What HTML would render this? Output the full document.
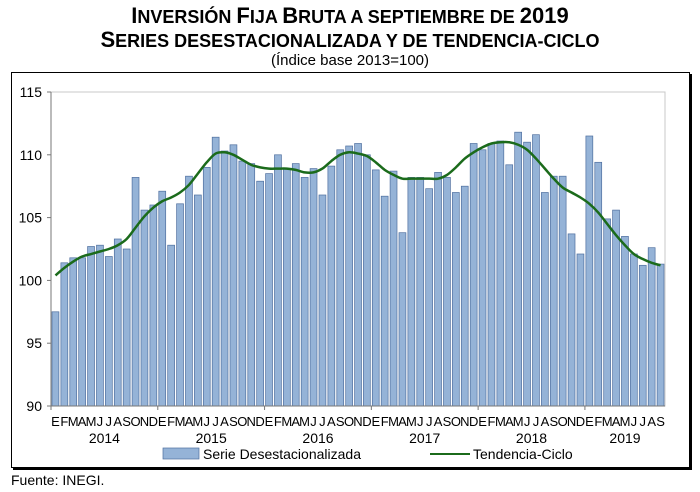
<!DOCTYPE html>
<html><head><meta charset="utf-8"><style>
body{margin:0;background:#fff;width:700px;height:492px;overflow:hidden;font-family:"Liberation Sans Narrow","Liberation Sans",sans-serif}
.t{position:absolute;left:0;width:700px;text-align:center;font-weight:bold;font-size:18px;color:#000;white-space:nowrap}
.t b{font-size:22px}
</style></head><body>
<div class="t" style="top:3px"><b>I</b>NVERSIÓN <b>F</b>IJA <b>B</b>RUTA A SEPTIEMBRE DE <b>2019</b></div>
<div class="t" style="top:27px"><b>S</b>ERIES DESESTACIONALIZADA Y DE TENDENCIA-CICLO</div>
<div style="position:absolute;left:0;width:700px;top:52px;text-align:center;font-size:15px">(Índice base 2013=100)</div>
<div style="position:absolute;left:11px;top:72px;width:677px;height:394px;border:1px solid #000;box-shadow:2px 2px 0 #000"></div>
<svg id="s" width="700" height="492" style="position:absolute;left:0;top:0" font-family="Liberation Sans Narrow, Liberation Sans, sans-serif"></svg>
<div style="position:absolute;left:11px;top:472px;font-size:14px">Fuente: INEGI.</div>
<script>
var B=[97.5,101.4,101.8,101.8,102.7,102.8,101.9,103.3,102.5,108.2,105.6,106.0,
107.1,102.8,106.1,108.3,106.8,109.0,111.4,110.3,110.8,109.5,109.3,107.9,
108.5,110.0,108.9,109.3,108.2,108.9,106.8,109.1,110.4,110.7,110.9,110.0,
108.8,106.7,108.7,103.8,108.2,108.2,107.3,108.6,108.2,107.0,107.5,110.9,
110.4,110.9,111.1,109.2,111.8,111.0,111.6,107.0,108.3,108.3,103.7,102.1,
111.5,109.4,104.9,105.6,103.5,102.1,101.2,102.6,101.3];
var T=[100.4,101.0,101.5,101.9,102.1,102.3,102.5,102.8,103.3,104.2,105.1,105.8,
106.3,106.6,107.0,107.6,108.5,109.4,110.1,110.2,110.0,109.6,109.2,109.0,
108.9,108.9,108.9,108.8,108.6,108.6,108.9,109.5,110.0,110.2,110.1,109.9,
109.4,108.8,108.4,108.1,108.1,108.1,108.1,108.1,108.4,109.0,109.7,110.2,
110.6,110.9,111.0,111.0,110.8,110.4,109.7,108.9,108.1,107.4,107.0,106.6,
106.1,105.4,104.5,103.6,102.8,102.1,101.7,101.4,101.2];
var L=51,R=665,Y0=406,Y1=92,n=69,w=(R-L)/n;
function Y(v){return Y0-(v-90)*(Y0-Y1)/25}
var h='<rect x="'+L+'" y="'+Y1+'" width="'+(R-L)+'" height="'+(Y0-Y1)+'" fill="none" stroke="#c8c8c8"/>';
for(var i=0;i<n;i++){var x=L+i*w+1,y=Y(B[i]);h+='<rect x="'+x.toFixed(1)+'" y="'+y.toFixed(1)+'" width="'+(w-2).toFixed(1)+'" height="'+(Y0-y).toFixed(1)+'" fill="#95b3d7" stroke="#4f6f9f" stroke-width="0.7"/>';}
var P=T.map(function(v,i){return[L+(i+0.5)*w,Y(v)]});
var d='M'+P[0][0]+','+P[0][1];
for(var i=0;i<P.length-1;i++){var p0=P[Math.max(i-1,0)],p1=P[i],p2=P[i+1],p3=P[Math.min(i+2,P.length-1)];
d+=' C'+(p1[0]+(p2[0]-p0[0])/6)+','+(p1[1]+(p2[1]-p0[1])/6)+' '+(p2[0]-(p3[0]-p1[0])/6)+','+(p2[1]-(p3[1]-p1[1])/6)+' '+p2[0]+','+p2[1];}
h+='<path d="'+d+'" fill="none" stroke="#1b6b1b" stroke-width="2.5"/>';
h+='<line x1="'+L+'" y1="'+Y1+'" x2="'+L+'" y2="'+Y0+'" stroke="#777"/><line x1="'+L+'" y1="'+Y0+'" x2="'+R+'" y2="'+Y0+'" stroke="#777"/>';
for(var v=90;v<=115;v+=5){var y=Y(v);h+='<line x1="'+(L-4)+'" y1="'+y+'" x2="'+L+'" y2="'+y+'" stroke="#777"/><text x="'+(L-9)+'" y="'+(y+5)+'" text-anchor="end" font-size="14">'+v+'</text>';}
var M='EFMAMJJASOND';
for(var i=0;i<n;i++){h+='<text x="'+(L+(i+0.5)*w).toFixed(1)+'" y="426" text-anchor="middle" font-size="13">'+M[i%12]+'</text>';}
for(var k=0;k<6;k++){var x=L+k*12*w;h+='<line x1="'+x+'" y1="'+Y0+'" x2="'+x+'" y2="'+(Y0+4)+'" stroke="#777"/>';
var cx=k<5?x+6*w:L+(60+4.5)*w;h+='<text x="'+cx.toFixed(1)+'" y="443" text-anchor="middle" font-size="14">'+(2014+k)+'</text>';}
h+='<rect x="163" y="448" width="36" height="11" fill="#95b3d7" stroke="#4f6f9f" stroke-width="0.7"/><text x="203" y="459" font-size="14">Serie Desestacionalizada</text>';
h+='<line x1="430" y1="454" x2="470" y2="454" stroke="#1b6b1b" stroke-width="2"/><text x="473" y="459" font-size="14">Tendencia-Ciclo</text>';
document.getElementById('s').innerHTML=h;
</script>
</body></html>
